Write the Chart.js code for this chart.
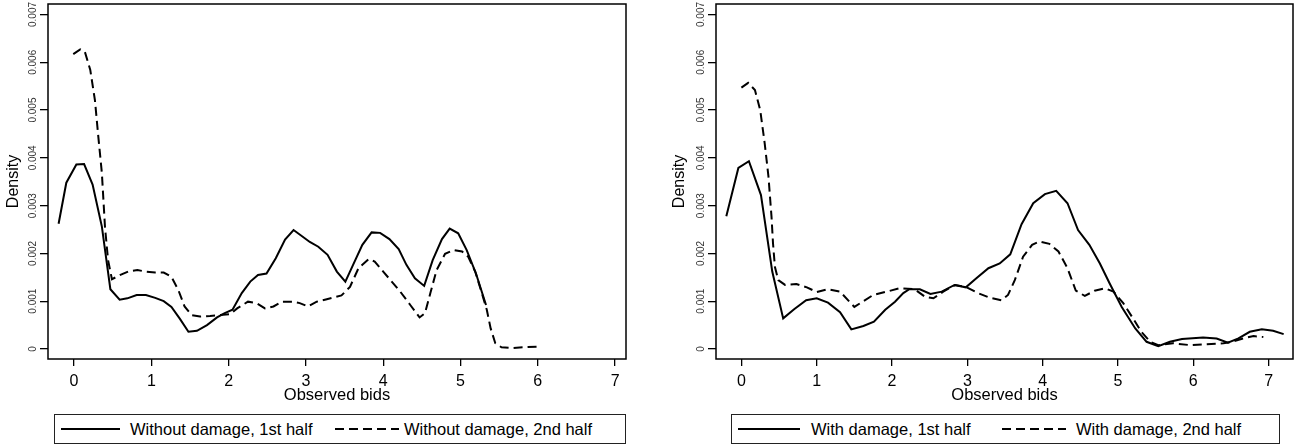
<!DOCTYPE html>
<html lang="en">
<head>
<meta charset="UTF-8">
<title>Density of observed bids</title>
<script src="https://cdn.jsdelivr.net/npm/chart.js"></script>
<style>
  body { margin: 0; background: #fff; width: 1295px; height: 447px; position: relative; overflow: hidden;
         font-family: "Liberation Sans", Arial, sans-serif; }
  .panel { position: absolute; top: 0; }
  .legend { position: absolute; top: 414px; height: 30px; border: 1px solid #222; box-sizing: border-box; }
  .legend span { position: absolute; }
  .sample { top: 13px; height: 2px; }
  .solid { background: #000; }
  .dashed { background: repeating-linear-gradient(to right, #000 0 9px, transparent 9px 14px); }
  .label { top: 0; line-height: 28px; font-size: 16.5px; color: #000; white-space: nowrap; }
</style>
</head>
<body>
<div class="panel" style="left:0"><canvas id="leftChart" width="640" height="410"></canvas></div>
<div class="panel" style="left:660px"><canvas id="rightChart" width="635" height="410"></canvas></div>

<div class="legend" style="left:54px;width:572px">
  <span class="sample solid" style="left:6px;width:59px"></span>
  <span class="label" style="left:75px">Without damage, 1st half</span>
  <span class="sample dashed" style="left:280px;width:64px"></span>
  <span class="label" style="left:349px">Without damage, 2nd half</span>
</div>
<div class="legend" style="left:731px;width:549px">
  <span class="sample solid" style="left:6px;width:62px"></span>
  <span class="label" style="left:79px">With damage, 1st half</span>
  <span class="sample dashed" style="left:270px;width:64px"></span>
  <span class="label" style="left:344px">With damage, 2nd half</span>
</div>

<script>
// axis ticks
const xTicks = [0, 1, 2, 3, 4, 5, 6, 7];
const yTicks = [0, 0.001, 0.002, 0.003, 0.004, 0.005, 0.006, 0.007];

// without damage, 1st half
const noDmg1X = [-0.20, -0.10, 0.03, 0.13, 0.24, 0.36, 0.47, 0.59, 0.69, 0.81, 0.93, 1.05, 1.16, 1.26, 1.37, 1.48, 1.59,
  1.72, 1.85, 1.95, 2.05, 2.17, 2.28, 2.38, 2.49, 2.61, 2.73, 2.84, 2.95, 3.05, 3.16, 3.28, 3.40, 3.51, 3.61, 3.73,
  3.85, 3.96, 4.08, 4.20, 4.30, 4.41, 4.53, 4.64, 4.76, 4.86, 4.97, 5.08, 5.20, 5.33];
const noDmg1Y = [0.00262, 0.00348, 0.00386, 0.00387, 0.00344, 0.00256, 0.00125, 0.00103, 0.00106, 0.00113, 0.00113,
  0.00107, 0.00100, 0.00088, 0.00063, 0.00036, 0.00038, 0.00050, 0.00066, 0.00075, 0.00082, 0.00117, 0.00141,
  0.00155, 0.00158, 0.00190, 0.00229, 0.00249, 0.00236, 0.00224, 0.00214, 0.00197, 0.00162, 0.00141, 0.00176,
  0.00218, 0.00244, 0.00243, 0.00230, 0.00209, 0.00176, 0.00148, 0.00132, 0.00186, 0.00230, 0.00252, 0.00242,
  0.00207, 0.00158, 0.00092];

// without damage, 2nd half
const noDmg2X = [-0.01, 0.08, 0.14, 0.21, 0.27, 0.31, 0.36, 0.40, 0.44, 0.49, 0.60, 0.70, 0.82, 0.93, 1.05, 1.16, 1.26,
  1.35, 1.43, 1.52, 1.63, 1.76, 1.89, 2.02, 2.11, 2.25, 2.36, 2.47, 2.58, 2.69, 2.82, 2.92, 3.03, 3.14, 3.27, 3.46,
  3.57, 3.68, 3.81, 3.89, 4.00, 4.11, 4.22, 4.35, 4.47, 4.54, 4.61, 4.69, 4.80, 4.91, 5.02, 5.10, 5.19, 5.27, 5.34,
  5.39, 5.45, 5.53, 5.66, 5.81, 6.01];
const noDmg2Y = [0.00617, 0.00627, 0.00622, 0.00584, 0.00521, 0.00451, 0.00368, 0.00256, 0.00186, 0.00146, 0.00155,
  0.00162, 0.00165, 0.00162, 0.00160, 0.00160, 0.00151, 0.00123, 0.00089, 0.00071, 0.00068, 0.00069, 0.00071,
  0.00073, 0.00085, 0.00099, 0.00096, 0.00085, 0.00089, 0.00099, 0.00099, 0.00096, 0.00089, 0.00099, 0.00104,
  0.00112, 0.00130, 0.00169, 0.00188, 0.00183, 0.00162, 0.00141, 0.00120, 0.00092, 0.00066, 0.00075, 0.00117,
  0.00165, 0.00199, 0.00207, 0.00204, 0.00193, 0.00162, 0.00120, 0.00082, 0.00043, 0.00012, 0.000035, 0.00002,
  0.000035, 0.00005];

// with damage, 1st half
const dmg1X = [-0.20, -0.04, 0.10, 0.26, 0.41, 0.555, 0.70, 0.86, 1.00, 1.15, 1.31, 1.46, 1.62, 1.76, 1.91, 2.04, 2.15,
  2.23, 2.37, 2.51, 2.66, 2.83, 2.98, 3.12, 3.28, 3.43, 3.57, 3.72, 3.875, 4.03, 4.18, 4.33, 4.47, 4.62, 4.76, 4.89,
  5.05, 5.23, 5.38, 5.535, 5.69, 5.85, 6.13, 6.31, 6.46, 6.60, 6.75, 6.91, 7.06, 7.20];
const dmg1Y = [0.00278, 0.00379, 0.00393, 0.00322, 0.00162, 0.00064, 0.00083, 0.00102, 0.00106, 0.00097, 0.00077,
  0.00041, 0.00048, 0.00057, 0.00082, 0.00099, 0.00117, 0.00125, 0.00125, 0.00115, 0.00120, 0.00134, 0.00129,
  0.00148, 0.00169, 0.00179, 0.00198, 0.00261, 0.00305, 0.00324, 0.00331, 0.00305, 0.00249, 0.00218, 0.00179,
  0.00137, 0.00088, 0.00043, 0.00015, 0.00006, 0.00015, 0.00021, 0.00024, 0.00022, 0.00013, 0.00022, 0.00036,
  0.00041, 0.00038, 0.00031];

// with damage, 2nd half
const dmg2X = [0.00, 0.09, 0.18, 0.25, 0.31, 0.36, 0.40, 0.42, 0.445, 0.49, 0.58, 0.73, 0.87, 1.00, 1.15, 1.31, 1.50,
  1.62, 1.75, 1.93, 2.10, 2.30, 2.44, 2.55, 2.68, 2.84, 2.99, 3.14, 3.30, 3.455, 3.54, 3.63, 3.74, 3.86, 3.96, 4.09,
  4.21, 4.33, 4.44, 4.56, 4.69, 4.83, 4.94, 5.07, 5.20, 5.31, 5.43, 5.535, 5.73, 5.96, 6.18, 6.40, 6.51, 6.66, 6.80,
  6.93];
const dmg2Y = [0.00547, 0.00557, 0.00542, 0.00500, 0.00430, 0.00360, 0.00277, 0.00221, 0.00172, 0.00144, 0.00134,
  0.00136, 0.00129, 0.00119, 0.00125, 0.00120, 0.00088, 0.00100, 0.00113, 0.00120, 0.00127, 0.00125, 0.00109,
  0.00106, 0.00120, 0.00134, 0.00129, 0.00117, 0.00107, 0.00102, 0.00113, 0.00144, 0.00193, 0.00218, 0.00225,
  0.00220, 0.00204, 0.00169, 0.00122, 0.00111, 0.00122, 0.00127, 0.00120, 0.00096, 0.00064, 0.00036, 0.00015,
  0.00008, 0.00012, 0.00008, 0.00010, 0.00012, 0.00015, 0.00022, 0.00027, 0.00025];

const FONT = '"Liberation Sans", Arial, sans-serif';

function points(xs, ys) {
  return xs.map((x, i) => ({ x: x, y: ys[i] }));
}

// box round the plot region
const frame = {
  id: 'frame',
  afterDraw(chart) {
    const { ctx, chartArea: a } = chart;
    ctx.save();
    ctx.strokeStyle = '#000';
    ctx.lineWidth = 1.5;
    ctx.strokeRect(a.left, a.top, a.right - a.left, a.bottom - a.top);
    ctx.restore();
  }
};

function makeChart(id, solidX, solidY, dashX, dashY, xMax, yWidth, rightPad, titlePad) {
  return new Chart(document.getElementById(id), {
    type: 'line',
    data: {
      datasets: [
        { data: points(solidX, solidY), borderColor: '#000', borderWidth: 2, pointRadius: 0, tension: 0 },
        { data: points(dashX, dashY), borderColor: '#000', borderWidth: 2, borderDash: [9, 5], pointRadius: 0, tension: 0 }
      ]
    },
    options: {
      responsive: false,
      animation: false,
      layout: { padding: { left: 0, right: rightPad, top: 4, bottom: 0 } },
      plugins: { legend: { display: false }, tooltip: { enabled: false } },
      scales: {
        x: {
          type: 'linear', min: -0.337, max: xMax,
          afterBuildTicks: s => { s.ticks = xTicks.map(v => ({ value: v })); },
          afterFit: s => { s.height = 51; s.paddingLeft = 0; s.paddingRight = 0; },
          grid: { drawOnChartArea: false, tickLength: 7, color: '#000', lineWidth: 1.3 },
          border: { display: false },
          ticks: { color: '#000', font: { size: 16, family: FONT }, padding: 6, maxRotation: 0, autoSkip: false },
          title: { display: true, text: 'Observed bids', color: '#000', font: { size: 16.5, family: FONT },
                   padding: { top: 0, bottom: 5 } }
        },
        y: {
          type: 'linear', min: -0.00021, max: 0.00722,
          afterBuildTicks: s => { s.ticks = yTicks.map(v => ({ value: v })); },
          afterFit: s => { s.width = yWidth; s.paddingTop = 0; s.paddingBottom = 0; },
          grid: { drawOnChartArea: false, tickLength: 8, color: '#000', lineWidth: 1.3 },
          border: { display: false },
          ticks: {
            color: '#333', font: { size: 10, family: FONT }, minRotation: 90, maxRotation: 90,
            crossAlign: 'center', padding: -5.5, autoSkip: false,
            callback: v => v === 0 ? '0' : v.toFixed(3)
          },
          title: { display: true, text: 'Density', color: '#000', font: { size: 16, family: FONT },
                   padding: { top: titlePad, bottom: 0 } }
        }
      }
    },
    plugins: [frame]
  });
}

makeChart('leftChart', noDmg1X, noDmg1Y, noDmg2X, noDmg2Y, 7.141, 48, 14, 3.5);
makeChart('rightChart', dmg1X, dmg1Y, dmg2X, dmg2Y, 7.324, 56, 2, 10);
</script>
</body>
</html>
